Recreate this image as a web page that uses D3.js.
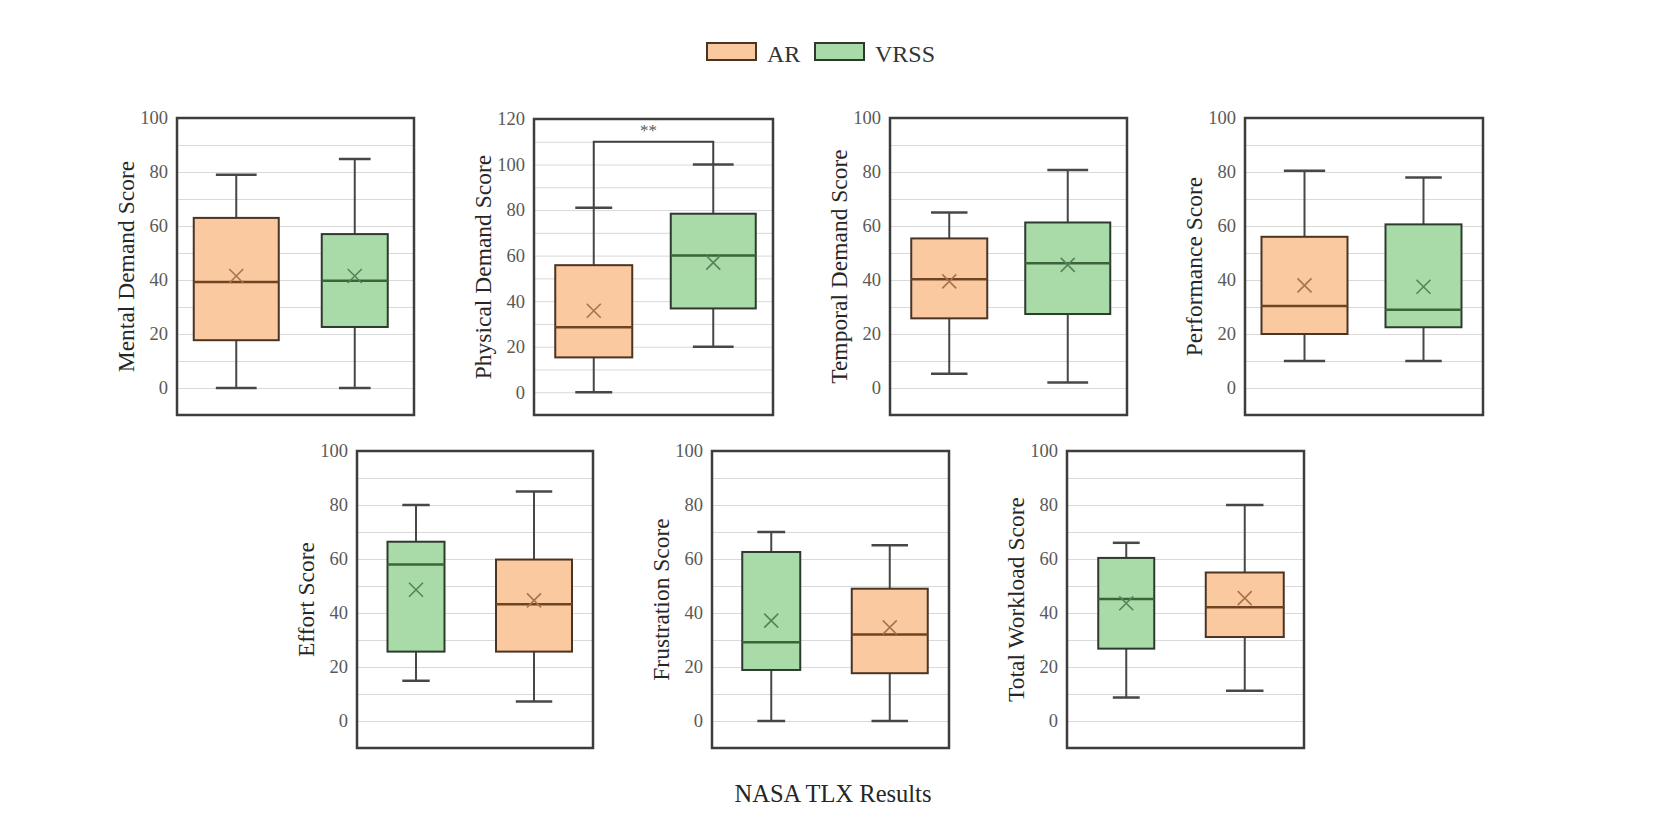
<!DOCTYPE html>
<html><head><meta charset="utf-8">
<script src="https://cdn.jsdelivr.net/npm/d3@7"></script>
<style>body{margin:0;background:#fff}svg{display:block}</style>
</head><body><svg id="c" width="1661" height="830"></svg>
<script>
// ---------- data ----------
const panelTitles = ["Mental Demand Score","Physical Demand Score","Temporal Demand Score","Performance Score","Effort Score","Frustration Score","Total Workload Score"];
const yMaxes = [100,120,100,100,100,100,100];
const yMin = -10;
const boxOrder = [["AR","VRSS"],["AR","VRSS"],["AR","VRSS"],["AR","VRSS"],["VRSS","AR"],["VRSS","AR"],["VRSS","AR"]];
const seriesNames = ["AR","VRSS"];
const arMin    = [0,   0,    5.3, 10,   7.2, 0,    11.2];
const arQ1     = [17.7,15.3, 25.8,20,   25.7,17.7, 31.1];
const arMedian = [39.3,28.5, 40.3,30.4, 43.2,32,   42.1];
const arQ3     = [63,  55.8, 55.4,56,   59.8,49,   55];
const arMax    = [79,  81,   65,  80.5, 85,  65.1, 80];
const arMean   = [41.5,35.8, 39.5,38,   44.7,34.7, 45.5];
const vrMin    = [0,   20,   2,   10,   14.9,0,    8.7];
const vrQ1     = [22.6,36.8, 27.4,22.5, 25.7,18.9, 26.8];
const vrMedian = [39.7,60.1, 46.2,29,   58,  29.2, 45.2];
const vrQ3     = [57,  78.4, 61.3,60.6, 66.4,62.6, 60.4];
const vrMax    = [84.8,100,  80.7,78,   80,  70,   66];
const vrMean   = [41.5,56.9, 45.6,37.5, 48.6,37.2, 43.6];
const sigPanel = 1, sigLevel = 110, sigLabel = "**";
const chartTitle = "NASA TLX Results";

// ---------- layout & style ----------
const layout = [
  {x:177, y:118, w:237, h:297, bw:[85,66]},
  {x:534, y:119, w:239, h:296, bw:[77,85]},
  {x:890, y:118, w:237, h:297, bw:[76,85]},
  {x:1245,y:118, w:238, h:297, bw:[86,76]},
  {x:357, y:451, w:236, h:297, bw:[57,76]},
  {x:712, y:451, w:237, h:297, bw:[58,76]},
  {x:1067,y:451, w:237, h:297, bw:[56,78]}
];
const style = {
  AR:   {fill:"#fac9a0", stroke:"#4a3424", median:"#6e4422", mean:"#a8744c"},
  VRSS: {fill:"#a9dba9", stroke:"#2e3a2e", median:"#3a653a", mean:"#55845a"}
};
const FONT = "'Liberation Serif','Times New Roman',serif";

const stats = {
  AR:   {min:arMin, q1:arQ1, med:arMedian, q3:arQ3, max:arMax, mean:arMean},
  VRSS: {min:vrMin, q1:vrQ1, med:vrMedian, q3:vrQ3, max:vrMax, mean:vrMean}
};

const svg = d3.select("#c");

panelTitles.forEach((title, i) => {
  const L = layout[i];
  const g = svg.append("g").attr("transform", `translate(${L.x},${L.y})`);
  const y = d3.scaleLinear().domain([yMin, yMaxes[i]]).range([L.h, 0]);
  const x = d3.scalePoint().domain(boxOrder[i]).range([0, L.w]).padding(0.5);

  // gridlines
  const grid = g.append("g").call(d3.axisLeft(y).tickValues(d3.range(0, yMaxes[i], 10)).tickSize(-L.w).tickFormat(""));
  grid.select(".domain").remove();
  grid.selectAll("line").attr("stroke", "#d9d9d9").attr("stroke-width", 1);

  // tick labels
  const ax = g.append("g").call(d3.axisLeft(y).tickValues(d3.range(0, yMaxes[i] + 1, 20)).tickSize(0).tickPadding(9));
  ax.select(".domain").remove();
  ax.selectAll("text").attr("font-family", FONT).attr("font-size", 18.5).attr("fill", "#595959");

  // axis title
  g.append("text")
    .attr("transform", `translate(-43,${L.h / 2}) rotate(-90)`)
    .attr("text-anchor", "middle")
    .attr("font-family", FONT).attr("font-size", 23.5).attr("fill", "#262626")
    .text(title);

  // boxes
  boxOrder[i].forEach((s, k) => {
    const st = stats[s], c = style[s];
    const cx = x(s), bw = L.bw[k], cap = bw * 0.48;
    const bg = g.append("g");
    // whiskers
    bg.append("line").attr("x1", cx).attr("x2", cx).attr("y1", y(st.min[i])).attr("y2", y(st.q1[i]))
      .attr("stroke", "#474747").attr("stroke-width", 2);
    bg.append("line").attr("x1", cx).attr("x2", cx).attr("y1", y(st.q3[i])).attr("y2", y(st.max[i]))
      .attr("stroke", "#474747").attr("stroke-width", 2);
    [st.min[i], st.max[i]].forEach(v => {
      bg.append("line").attr("x1", cx - cap / 2).attr("x2", cx + cap / 2).attr("y1", y(v)).attr("y2", y(v))
        .attr("stroke", "#474747").attr("stroke-width", 2.5);
    });
    // box
    bg.append("rect").attr("x", cx - bw / 2).attr("width", bw)
      .attr("y", y(st.q3[i])).attr("height", y(st.q1[i]) - y(st.q3[i]))
      .attr("fill", c.fill).attr("stroke", c.stroke).attr("stroke-width", 2);
    // median
    bg.append("line").attr("x1", cx - bw / 2).attr("x2", cx + bw / 2)
      .attr("y1", y(st.med[i])).attr("y2", y(st.med[i]))
      .attr("stroke", c.median).attr("stroke-width", 2.5);
    // mean marker
    const my = y(st.mean[i]), r = 7;
    bg.append("path").attr("d", `M${cx - r},${my - r}L${cx + r},${my + r}M${cx - r},${my + r}L${cx + r},${my - r}`)
      .attr("stroke", c.mean).attr("stroke-width", 1.6).attr("fill", "none");
  });

  // significance bracket
  if (i === sigPanel) {
    const [a, b] = boxOrder[i];
    const top = y(sigLevel);
    g.append("path")
      .attr("d", `M${x(a)},${y(stats[a].max[i])}V${top}H${x(b)}V${y(stats[b].max[i])}`)
      .attr("fill", "none").attr("stroke", "#404040").attr("stroke-width", 2);
    g.append("text").attr("x", (x(a) + x(b)) / 2 - 5).attr("y", top - 6)
      .attr("text-anchor", "middle").attr("font-family", FONT).attr("font-size", 17).attr("fill", "#595959")
      .text(sigLabel);
  }

  // frame
  g.append("rect").attr("width", L.w).attr("height", L.h)
    .attr("fill", "none").attr("stroke", "#3d3d3d").attr("stroke-width", 2.5);
});

// legend
const legX = [707, 815];
const leg = svg.append("g").selectAll("g").data(seriesNames).join("g")
  .attr("transform", (d, i) => `translate(${legX[i]},43)`);
leg.append("rect").attr("width", 49).attr("height", 17)
  .attr("fill", d => style[d].fill).attr("stroke", d => style[d].stroke).attr("stroke-width", 2);
leg.append("text").attr("x", 60).attr("y", 19)
  .attr("font-family", FONT).attr("font-size", 24).attr("fill", "#333")
  .text(d => d);

// title
svg.append("text").attr("x", 833).attr("y", 802).attr("text-anchor", "middle")
  .attr("font-family", FONT).attr("font-size", 24.5).attr("fill", "#262626")
  .text(chartTitle);
</script>
</body></html>
